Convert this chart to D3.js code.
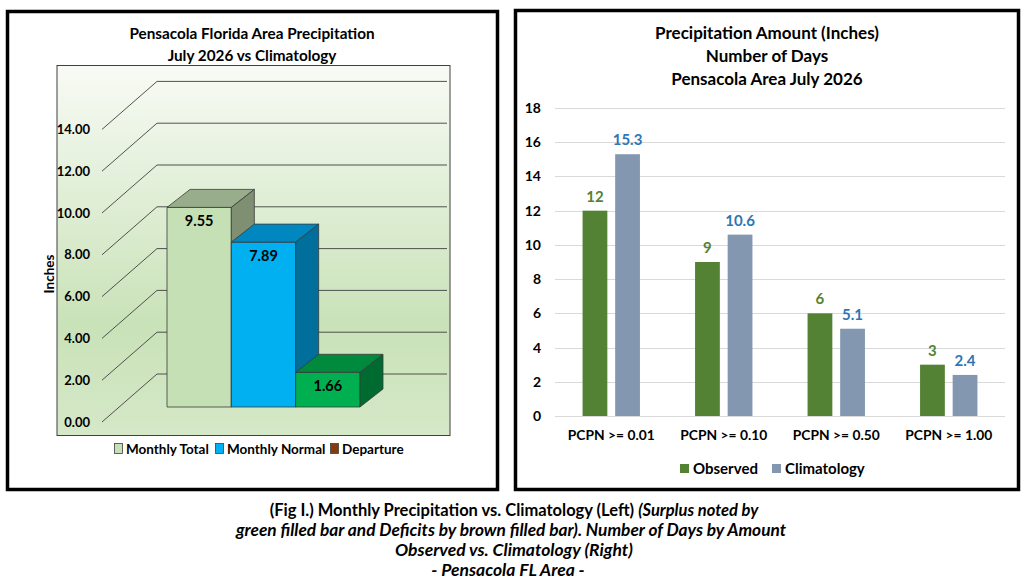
<!DOCTYPE html>
<meta charset="utf-8">
<html>
  <head>
    <title>Pensacola July 2026 Precipitation</title>
    <script src="https://d3js.org/d3.v7.min.js"></script>
    <style>
      body { margin: 0; background: #fff; }
      text { font-family: Lato, "Open Sans", sans-serif; font-weight: bold; fill: #000; }
      .grid3d { stroke: #404040; stroke-width: 0.9px; fill: none; }
      .face { stroke: #3a3a3a; stroke-width: 0.8px; }
      .grid { stroke: #d9d9d9; stroke-width: 1px; }
    </style>
  </head>
  <body>
    <svg id="chart" width="1029" height="584"></svg>

    <script>
      // ---- data: left chart (monthly totals, inches)
      const leftCats = ["Monthly Total", "Monthly Normal", "Departure"];
      const leftValues = [9.55, 7.89, 1.66];
      const leftTicks = [0, 2, 4, 6, 8, 10, 12, 14];
      const leftLegendColors = ["#c5e0b4", "#00b0f0", "#843c0c"];
      const leftFront = ["#c5e0b4", "#00b0f0", "#00b050"];
      const leftTop = ["#98ad8c", "#0087bf", "#008a3e"];
      const leftSide = ["#7f8f72", "#006f9c", "#006b30"];

      // ---- data: right chart (number of days)
      const categories = ["PCPN >= 0.01", "PCPN >= 0.10", "PCPN >= 0.50", "PCPN >= 1.00"];
      const series = ["Observed", "Climatology"];
      const observed = [12, 9, 6, 3];
      const climatology = [15.3, 10.6, 5.1, 2.4];
      const rightTicks = [0, 2, 4, 6, 8, 10, 12, 14, 16, 18];
      const seriesColors = ["#548235", "#8497b0"];
      const labelColors = ["#548235", "#2e75b6"];

      const svg = d3.select("#chart");

      // panel frames
      svg.append("rect").attr("x", 7.5).attr("y", 11.5).attr("width", 490).attr("height", 478)
        .attr("fill", "#fff").attr("stroke", "#000").attr("stroke-width", 3.5);
      svg.append("rect").attr("x", 515.5).attr("y", 10.5).attr("width", 503).attr("height", 479)
        .attr("fill", "#fff").attr("stroke", "#000").attr("stroke-width", 3.5);

      // ===================== LEFT: pseudo 3D column chart =====================
      const L = svg.append("g");

      const defs = svg.append("defs");
      const grad = defs.append("linearGradient").attr("id", "bg").attr("x1", 0).attr("y1", 0).attr("x2", 0).attr("y2", 1);
      grad.append("stop").attr("offset", "0%").attr("stop-color", "#f8fbf5");
      grad.append("stop").attr("offset", "70%").attr("stop-color", "#c9e2b8");
      grad.append("stop").attr("offset", "100%").attr("stop-color", "#d5e8c8");

      L.append("rect").attr("x", 57).attr("y", 65.5).attr("width", 393).attr("height", 370)
        .attr("fill", "url(#bg)").attr("stroke", "#404040").attr("stroke-width", 1);

      // height in px for a value
      const h = d3.scaleLinear().domain([0, 14]).range([0, 292.6]);
      const frontX = 102, backX = 157, wallRight = 447;
      const frontY0 = 422, backY0 = 374;

      leftTicks.forEach(v => {
        L.append("line").attr("class", "grid3d")
          .attr("x1", frontX).attr("y1", frontY0 - h(v))
          .attr("x2", backX).attr("y2", backY0 - h(v));
        L.append("line").attr("class", "grid3d")
          .attr("x1", backX).attr("y1", backY0 - h(v))
          .attr("x2", wallRight).attr("y2", backY0 - h(v));
        L.append("text").attr("x", 90).attr("y", frontY0 - h(v)).attr("dy", "0.35em")
          .attr("text-anchor", "end").style("font-size", "13px")
          .text(d3.format(".2f")(v));
      });

      L.append("text").attr("transform", "translate(54,274) rotate(-90)")
        .attr("text-anchor", "middle").style("font-size", "13.5px").text("Inches");

      const xb = d3.scaleBand().domain(leftCats).range([167, 360]).padding(0);
      const barBase = 407, ddx = 23, ddy = 18;

      leftCats.forEach((c, i) => {
        const x0 = xb(c), x1 = x0 + xb.bandwidth();
        const yt = barBase - h(leftValues[i]);
        // front face
        L.append("path").attr("class", "face").attr("fill", leftFront[i])
          .attr("d", `M${x0},${barBase}L${x0},${yt}L${x1},${yt}L${x1},${barBase}Z`);
        // top face
        L.append("path").attr("class", "face").attr("fill", leftTop[i])
          .attr("d", `M${x0},${yt}L${x0 + ddx},${yt - ddy}L${x1 + ddx},${yt - ddy}L${x1},${yt}Z`);
        // side face
        L.append("path").attr("class", "face").attr("fill", leftSide[i])
          .attr("d", `M${x1},${yt}L${x1 + ddx},${yt - ddy}L${x1 + ddx},${barBase - ddy}L${x1},${barBase}Z`);
        L.append("text").attr("x", (x0 + x1) / 2).attr("y", yt + 14).attr("dy", "0.35em")
          .attr("text-anchor", "middle").style("font-size", "14.5px")
          .text(d3.format(".2f")(leftValues[i]));
      });

      L.append("text").attr("x", 252).attr("y", 39).attr("text-anchor", "middle")
        .style("font-size", "15.3px").text("Pensacola Florida Area Precipitation");
      L.append("text").attr("x", 252).attr("y", 61).attr("text-anchor", "middle")
        .style("font-size", "15.3px").text("July 2026 vs Climatology");

      // left legend
      const legX = [114, 215, 330];
      leftCats.forEach((c, i) => {
        L.append("rect").attr("x", legX[i] + 0.5).attr("y", 443.5).attr("width", 8).attr("height", 10)
          .attr("fill", leftLegendColors[i]).attr("stroke", "#404040").attr("stroke-width", 0.8);
        L.append("text").attr("x", legX[i] + 12).attr("y", 449).attr("dy", "0.35em")
          .style("font-size", "13.5px").text(c);
      });

      // ===================== RIGHT: clustered columns =====================
      const R = svg.append("g");
      const y = d3.scaleLinear().domain([0, 18]).range([416, 108]);
      const x0s = d3.scaleBand().domain(categories).range([555, 1005]).paddingInner(0.49).paddingOuter(0.245);
      const x1s = d3.scaleBand().domain(series).range([0, x0s.bandwidth()]).paddingInner(0.24);

      rightTicks.forEach(v => {
        R.append("line").attr("class", "grid").attr("x1", 555).attr("x2", 1005)
          .attr("y1", Math.round(y(v)) + 0.5).attr("y2", Math.round(y(v)) + 0.5);
      });

      const yAxis = d3.axisLeft(y).tickValues(rightTicks).tickSize(0).tickPadding(0);
      const ya = R.append("g").attr("transform", "translate(541,0)").call(yAxis);
      ya.select(".domain").remove();
      ya.selectAll("text").style("font-size", "14px").attr("fill", "#000");

      const xAxis = d3.axisBottom(x0s).tickSize(0).tickPadding(0);
      const xa = R.append("g").attr("transform", "translate(0,430)").call(xAxis);
      xa.select(".domain").remove();
      xa.selectAll("text").style("font-size", "13.8px").attr("fill", "#000");

      const values = [observed, climatology];
      series.forEach((s, si) => {
        R.selectAll(null).data(categories).enter().append("rect")
          .attr("x", c => x0s(c) + x1s(s))
          .attr("y", (c, i) => y(values[si][i]))
          .attr("width", x1s.bandwidth())
          .attr("height", (c, i) => y(0) - y(values[si][i]))
          .attr("fill", seriesColors[si]);
        R.selectAll(null).data(categories).enter().append("text")
          .attr("x", c => x0s(c) + x1s(s) + x1s.bandwidth() / 2)
          .attr("y", (c, i) => y(values[si][i]) - 9)
          .attr("text-anchor", "middle")
          .style("font-size", "15px").style("fill", labelColors[si])
          .text((c, i) => values[si][i]);
      });

      ["Precipitation Amount (Inches)", "Number of Days", "Pensacola Area July 2026"].forEach((t, i) => {
        R.append("text").attr("x", 767).attr("y", 39 + i * 23).attr("text-anchor", "middle")
          .style("font-size", "17px").text(t);
      });

      const legRX = [680, 772];
      series.forEach((s, i) => {
        R.append("rect").attr("x", legRX[i]).attr("y", 464).attr("width", 9).attr("height", 9)
          .attr("fill", seriesColors[i]);
        R.append("text").attr("x", legRX[i] + 13).attr("y", 469).attr("dy", "0.35em")
          .style("font-size", "15px").text(s);
      });

      // ===================== caption =====================
      const cap = svg.append("text").attr("text-anchor", "middle").style("font-size", "16.5px");
      const l1 = cap.append("tspan").attr("x", 514).attr("y", 516);
      l1.append("tspan").text("(Fig I.) Monthly Precipitation vs. Climatology (Left) ");
      l1.append("tspan").style("font-style", "italic").text("(Surplus noted by");
      cap.append("tspan").attr("x", 511).attr("y", 536).style("font-style", "italic").style("font-size", "17.3px")
        .text("green filled bar and Deficits by brown filled bar). Number of Days by Amount");
      cap.append("tspan").attr("x", 514).attr("y", 556).style("font-style", "italic").style("font-size", "17.5px")
        .text("Observed vs. Climatology (Right)");
      cap.append("tspan").attr("x", 508).attr("y", 576).style("font-style", "italic").style("font-size", "17.5px")
        .text("- Pensacola FL Area -");
    </script>
  </body>
</html>
